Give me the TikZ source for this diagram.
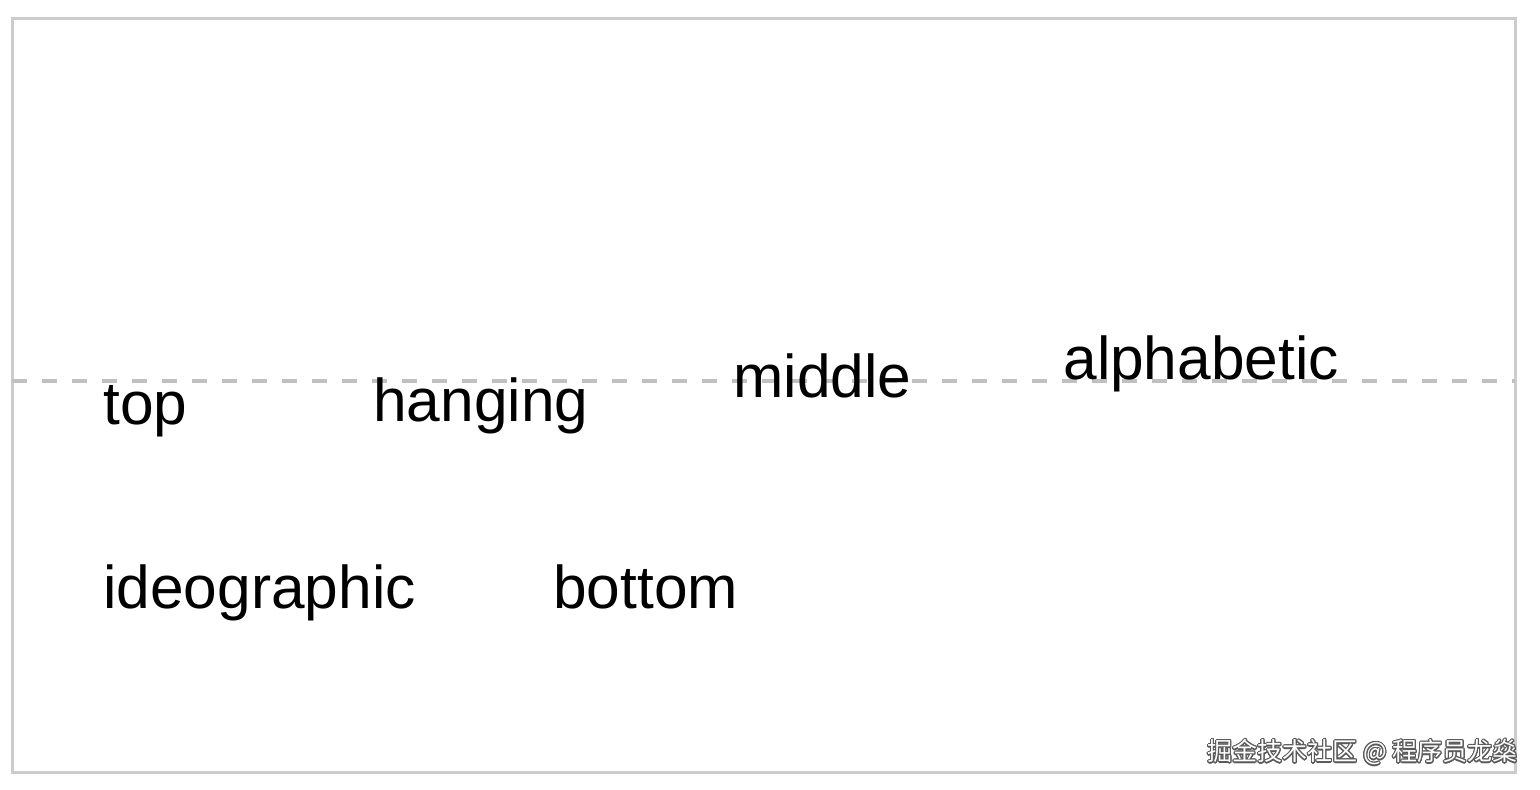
\documentclass[tikz,border=0pt]{standalone}
\usepackage{fontspec}
\setmainfont{Liberation Sans}
\newfontfamily\cjkfont{Noto Sans CJK SC}
\usepackage{contour}
\contourlength{0.6pt}
\definecolor{frameGray}{RGB}{204,204,204}
\definecolor{lineGray}{RGB}{192,192,192}
\definecolor{markGray}{RGB}{90,90,90}

\begin{document}
\begin{tikzpicture}[x=0.5pt,y=-0.5pt,
  baselabel/.style={anchor=base west,inner sep=0pt,font=\fontsize{30.2}{31}\selectfont}]

\useasboundingbox (0,0) rectangle (1540,790);

% draw the frame
\draw [line width=1.5pt,color=frameGray] (12,19) rectangle (1515,772);

% draw the dashed baseline
\coordinate (lineStart) at (12,381);
\coordinate (lineEnd) at (1515,381);
\draw [line width=2pt,color=lineGray,dash pattern=on 7.5pt off 7.5pt] (lineStart) -- (lineEnd);

% label all the baselines
\def\baselines{top/103/425,
               hanging/373/422,
               middle/733/398,
               alphabetic/1063/380,
               ideographic/103/608,
               bottom/553/608}
\foreach \name/\xpos/\ypos in \baselines
  \node [baselabel] (\name) at (\xpos,\ypos) {\name};

% the watermark
\node [anchor=east,inner sep=0pt,text=white,font=\cjkfont\fontsize{12.5}{13}\selectfont] (mark) at (1518,753)
  {\contour{markGray}{掘金技术社区 @ 程序员龙燊}};

\end{tikzpicture}
\end{document}
